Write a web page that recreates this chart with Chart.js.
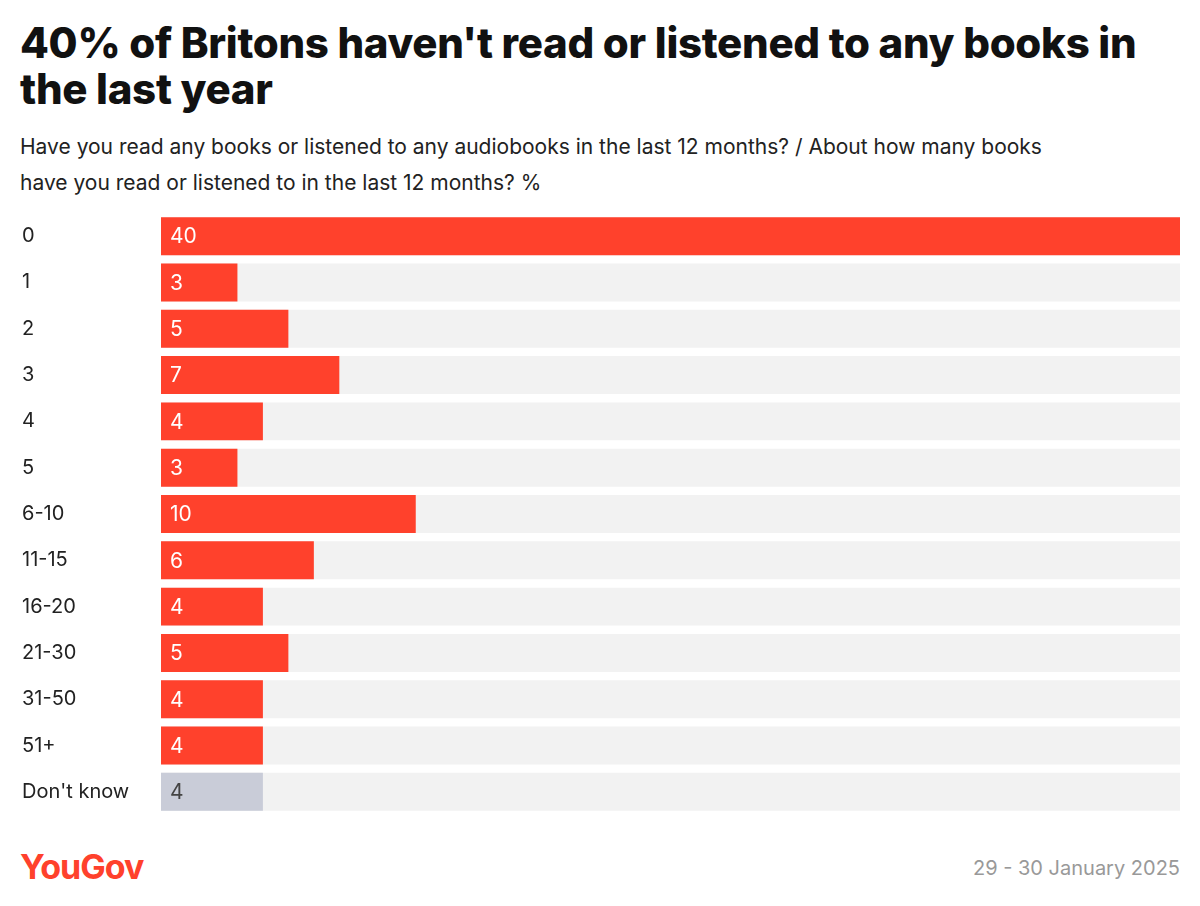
<!DOCTYPE html>
<html><head><meta charset="utf-8">
<script src="https://cdn.jsdelivr.net/npm/chart.js@4"></script>
<style>
body{margin:0;width:1200px;height:906px;background:#fff;font-family:Inter,"Noto Sans",sans-serif;position:relative;overflow:hidden}
h1{position:absolute;left:20px;top:20px;margin:0;font-size:42px;line-height:46px;font-weight:800;color:#111;width:1160px;letter-spacing:-0.3px}
.sub{position:absolute;left:20px;top:129px;font-size:21px;line-height:36px;color:#222;width:1060px}
#wrap{position:absolute;left:0;top:201px;width:1180px;height:626px}
.logo{position:absolute;left:20px;top:846px;font-size:34px;font-weight:700;color:#ff412c;letter-spacing:-1px}
.date{position:absolute;right:20px;top:856px;font-size:20px;color:#999}
</style></head><body>
<h1>40% of Britons haven't read or listened to any books in the last year</h1>
<div class="sub">Have you read any books or listened to any audiobooks in the last 12 months? / About how many books have you read or listened to in the last 12 months? %</div>
<div id="wrap"><canvas id="c"></canvas></div>
<div class="logo">YouGov</div>
<div class="date">29 - 30 January 2025</div>
<script>
var categories = ["0","1","2","3","4","5","6-10","11-15","16-20","21-30","31-50","51+","Don't know"];
var values = [40,3,5,7,4,3,10,6,4,5,4,4,4];
var maxValue = 40;

var colors = values.map(function(v,i){ return categories[i]=="Don't know" ? '#c9ccd8' : '#ff412c'; });

var labelPlugin = {
  id:'vals',
  afterDatasetsDraw: function(chart){
    var ctx = chart.ctx;
    var meta = chart.getDatasetMeta(0);
    ctx.save();
    ctx.font = '21px Inter, "Noto Sans", sans-serif';
    ctx.textBaseline = 'middle';
    meta.data.forEach(function(bar,i){
      ctx.fillStyle = categories[i]=="Don't know" ? '#444' : '#fff';
      ctx.fillText(values[i], bar.base + 9, bar.y + 1);
    });
    ctx.restore();
  }
};

new Chart(document.getElementById('c'), {
  type:'bar',
  data:{
    labels:categories,
    datasets:[
      {data:values, backgroundColor:colors, order:0, grouped:false, categoryPercentage:0.82, barPercentage:1},
      {data:categories.map(function(){return maxValue;}), backgroundColor:'#f2f2f2', order:1, grouped:false, categoryPercentage:0.82, barPercentage:1}
    ]
  },
  options:{
    indexAxis:'y',
    responsive:true, maintainAspectRatio:false, animation:false,
    layout:{padding:{left:22}},
    plugins:{legend:{display:false}, tooltip:{enabled:false}},
    scales:{
      x:{display:false, min:0, max:maxValue},
      y:{
        grid:{display:false}, border:{display:false},
        afterFit:function(s){ s.width = 139; },
        ticks:{crossAlign:'far', padding:0, color:'#222', font:{size:20, family:'Inter, "Noto Sans", sans-serif'}}
      }
    }
  },
  plugins:[labelPlugin]
});
</script>
</body></html>
